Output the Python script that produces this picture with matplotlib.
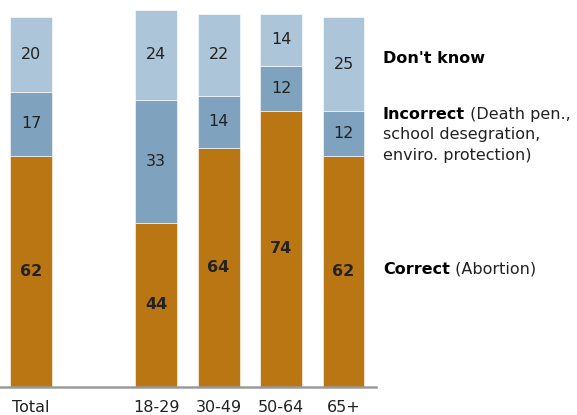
import numpy as np
import matplotlib
matplotlib.use('Agg')
import matplotlib.pyplot as plt

groups = ['Total', '18-29', '30-49', '50-64', '65+']
xpos = [0, 2, 3, 4, 5]
correct = [62, 44, 64, 74, 62]
incorrect = [17, 33, 14, 12, 12]
dont_know = [20, 24, 22, 14, 25]

c_correct = '#BB7614'
c_incorrect = '#7FA3BF'
c_dk = '#ADC5D9'
txt = '#222222'

plt.rcParams['font.family'] = 'DejaVu Sans'

fig = plt.figure(figsize=(5.77, 4.15), dpi=100)
ax = fig.add_axes([0, 28 / 415, 376 / 577, 377 / 415])

w = 0.67
bottom2 = np.array(correct)
bottom3 = bottom2 + np.array(incorrect)
ax.bar(xpos, correct, w, color=c_correct, edgecolor='white', linewidth=0.4)
ax.bar(xpos, incorrect, w, bottom=bottom2, color=c_incorrect, edgecolor='white', linewidth=0.4)
ax.bar(xpos, dont_know, w, bottom=bottom3, color=c_dk, edgecolor='white', linewidth=0.4)

for x, a, b, c in zip(xpos, correct, incorrect, dont_know):
    ax.text(x, a / 2, str(a), ha='center', va='center', fontsize=11.5,
            fontweight='bold', color=txt)
    ax.text(x, a + b / 2, str(b), ha='center', va='center', fontsize=11.5, color=txt)
    ax.text(x, a + b + c / 2, str(c), ha='center', va='center', fontsize=11.5, color=txt)

ax.set_xlim(-0.5, 5.52)
ax.set_ylim(0, 101)
for s in ['top', 'right', 'left']:
    ax.spines[s].set_visible(False)
ax.spines['bottom'].set_color('#9a9a9a')
ax.spines['bottom'].set_linewidth(1.8)
ax.set_yticks([])
ax.set_xticks(xpos)
ax.set_xticklabels(groups, fontsize=11.5, color=txt)
ax.tick_params(axis='x', length=0, pad=9)

# side labels
lx = 5.63
t = ax.text(lx, 88, "Don't know", fontsize=11.5, fontweight='bold', color='black',
            va='center', clip_on=False)
t = ax.text(lx, 73, "Incorrect", fontsize=11.5, fontweight='bold', color='black',
            va='center', clip_on=False)
ax.annotate(" (Death pen.,", xy=(1, 0.5), xycoords=t, va='center', fontsize=11.5,
            color=txt, annotation_clip=False)
ax.text(lx, 67.6, "school desegration,", fontsize=11.5, color=txt, va='center', clip_on=False)
ax.text(lx, 62.0, "enviro. protection)", fontsize=11.5, color=txt, va='center', clip_on=False)
t = ax.text(lx, 31.5, "Correct", fontsize=11.5, fontweight='bold', color='black',
            va='center', clip_on=False)
ax.annotate(" (Abortion)", xy=(1, 0.5), xycoords=t, va='center', fontsize=11.5,
            color=txt, annotation_clip=False)

fig.savefig('out.png', dpi=100)
